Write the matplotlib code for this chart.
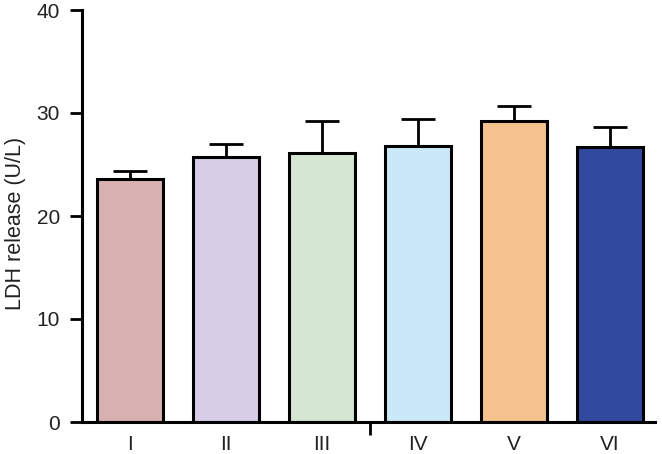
import matplotlib
matplotlib.use("Agg")
import matplotlib.pyplot as plt
import numpy as np

categories = ["I", "II", "III", "IV", "V", "VI"]
values = [23.6, 25.7, 26.1, 26.8, 29.2, 26.7]
errors = [0.8, 1.3, 3.1, 2.6, 1.5, 1.9]
colors = ["#D9B0B1", "#D8CDE6", "#D3E7D3", "#C9E9F9", "#F5C18E", "#314A9D"]

plt.rcParams['font.family'] = ['Liberation Sans', 'DejaVu Sans']

fig = plt.figure(figsize=(6.62, 4.54), dpi=100)
ax = fig.add_axes([82/662, 1-422/454, (655-82)/662, (422-10)/454])

x = np.arange(len(categories))
ax.errorbar(x, values, yerr=[np.zeros(len(errors)), errors], fmt='none',
            ecolor='black', elinewidth=2.0, capsize=12.5, capthick=2.0, zorder=1)
ax.bar(x, values, width=0.68, color=colors, edgecolor='black', linewidth=2.2, zorder=2)

ax.set_xlim(-0.5, 5.47)
ax.set_ylim(0, 40)
ax.set_yticks([0, 10, 20, 30, 40])
ax.set_xticks(x)
ax.set_xticklabels(categories)
ax.set_xticks([2.5], minor=True)
ax.tick_params(axis='x', which='major', length=0, pad=9, labelsize=15, labelcolor='#222222')
ax.tick_params(axis='x', which='minor', length=9, width=2, direction='out')
ax.tick_params(axis='y', length=9, width=2, pad=7, labelsize=15, labelcolor='#222222')
ax.set_ylabel("LDH release (U/L)", fontsize=15.5, color='#222222')
ax.yaxis.set_label_coords(-0.098, 0.483)

for s in ['top', 'right']:
    ax.spines[s].set_visible(False)
for s in ['left', 'bottom']:
    ax.spines[s].set_linewidth(2.2)

fig.savefig("out.png", dpi=100)
